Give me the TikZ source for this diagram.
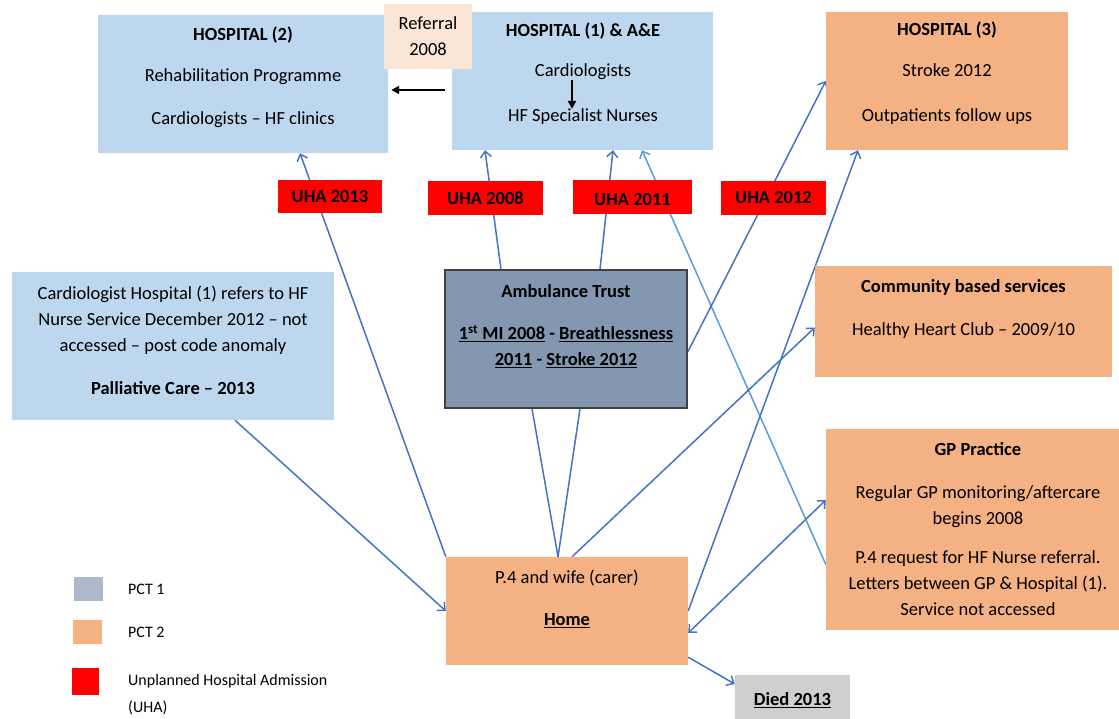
\documentclass[tikz,border=0pt]{standalone}
\usepackage{fontspec}
\setmainfont{Carlito}
\usetikzlibrary{arrows.meta,backgrounds}
\definecolor{nhsblue}{RGB}{189,215,238}
\definecolor{nhspeach}{RGB}{251,229,214}
\definecolor{nhsorange}{RGB}{244,177,131}
\definecolor{nhsslate}{RGB}{132,151,176}
\definecolor{nhsgrey}{RGB}{208,206,206}
\definecolor{nhskey}{RGB}{173,185,202}
\definecolor{nhsline}{RGB}{68,114,196}
\definecolor{nhsfaint}{RGB}{91,155,213}
% invisible strut below the last line, lifts the text in its box
\newcommand{\padbelow}[1]{\rule[-#1]{0pt}{#1}}

\begin{document}
\begin{tikzpicture}[x=1pt, y=-1pt,
  >={Straight Barb[length=6pt,width=11pt]},
  box/.style={align=center, inner sep=0pt, font=\fontsize{18.5}{26}\selectfont},
  title/.style={box, font=\fontsize{18.5}{26}\selectfont\bfseries},
  bluebox/.style={box, fill=nhsblue},
  orangebox/.style={box, fill=nhsorange},
  uha/.style={title, fill=red},
  link/.style={nhsline, line width=1.5pt, ->},
  plain/.style={nhsline, line width=1.5pt},
  blackarrow/.style={black, line width=2pt, -{Triangle[length=8pt,width=8pt]}}]
\useasboundingbox (0,0) rectangle (1119,719);

% Top row: hospitals
\node[bluebox, minimum width=290pt, minimum height=138pt] (hosp2) at (243,84)
  {\textbf{HOSPITAL (2)}\\[15pt] Rehabilitation Programme\\[17pt] Cardiologists -- HF clinics\padbelow{16pt}};
\node[bluebox, minimum width=261pt, minimum height=138pt] (hosp1) at (582.5,81) {};
\node[title] (hosp1title) at (583,31) {HOSPITAL (1) \& A\&E};
\node[box] (cardio) at (583,72) {Cardiologists};
\node[box] (hfnurse) at (583,117) {HF Specialist Nurses};
\node[box, fill=nhspeach, minimum width=88pt, minimum height=65pt] (referral) at (428,36.5) {Referral\\2008};
\node[orangebox, minimum width=242pt, minimum height=138pt] (hosp3) at (947,81)
  {\textbf{HOSPITAL (3)}\\[15pt] Stroke 2012\\[19pt] Outpatients follow ups\padbelow{18pt}};

% Unplanned admissions
\node[uha, minimum width=104pt, minimum height=33pt] (uha13) at (330,197) {UHA 2013};
\node[uha, minimum width=115pt, minimum height=34pt] (uha08) at (485.5,198) {UHA 2008};
\node[uha, minimum width=119pt, minimum height=34pt] (uha11) at (632.5,197) {\rule{0pt}{18pt}UHA 2011};
\node[uha, minimum width=105pt, minimum height=34pt] (uha12) at (773.5,198) {UHA 2012};

% Middle row
\node[bluebox, minimum width=322pt, minimum height=148pt] (refbox) at (173,346)
  {Cardiologist Hospital (1) refers to HF\\ Nurse Service December 2012 -- not\\ accessed -- post code anomaly\\[17pt] \textbf{Palliative Care -- 2013}\padbelow{12pt}};
\node[box, fill=nhsslate, draw=black!75, line width=1.5pt, minimum width=242pt, minimum height=138pt] (amb) at (566,339)
  {\textbf{Ambulance Trust}\\[16pt] \textbf{\underline{1\textsuperscript{st} MI 2008} - \underline{Breathlessness}}\\ \textbf{\underline{2011} - \underline{Stroke 2012}}\padbelow{27pt}};
\node[orangebox, minimum width=297pt, minimum height=111pt] (comm) at (963.5,321.5)
  {\textbf{Community based services}\\[17pt] Healthy Heart Club -- 2009/10\padbelow{28pt}};

% Bottom row
\node[orangebox, minimum width=242pt, minimum height=108pt] (home) at (567,611)
  {P.4 and wife (carer)\\[16pt] \textbf{\underline{Home}}\padbelow{27pt}};
\node[box, fill=nhsgrey, minimum width=115pt, minimum height=50pt] (died) at (792.5,700)
  {\textbf{\underline{Died 2013}}};
\node[orangebox, minimum width=304pt, minimum height=201pt] (gp) at (978,529.5)
  {\textbf{GP Practice}\\[17pt] Regular GP monitoring/aftercare\\ begins 2008\\[13pt] P.4 request for HF Nurse referral.\\ Letters between GP \& Hospital (1).\\ Service not accessed};

% Key
\foreach \name/\col/\w/\h/\x/\y/\txt in {keyone/nhskey/29/24/88.5/589/PCT 1,
    keytwo/nhsorange/29/24/87.5/632/PCT 2,
    keyuha/red/27/27/85.5/681.5/Unplanned Hospital Admission} {
  \node[fill=\col, minimum width=\w pt, minimum height=\h pt, inner sep=0pt] (\name) at (\x,\y) {};
  \node[anchor=west, inner sep=0pt, font=\fontsize{16}{20}\selectfont] (\name label) at (128,\y) {\txt};
}
\node[anchor=west, inner sep=0pt, font=\fontsize{16}{20}\selectfont] (keyuhamore) at (128,708) {(UHA)};

% Connectors
\begin{pgfonlayer}{background}
\draw[link] (home.north west) -- ([xshift=57pt]hosp2.south);
\draw[link] ([xshift=-65pt]amb.north) -- ([xshift=-97.5pt]hosp1.south);
\draw[link] ([xshift=34pt]amb.north) -- ([xshift=30.5pt]hosp1.south);
\draw[link, nhsfaint] ([yshift=-35pt]gp.west) -- ([xshift=59.5pt]hosp1.south);
\draw[link] ([yshift=-13pt]amb.east) -- (hosp3.west);
\draw[link] (home.east) -- ([xshift=-89pt]hosp3.south);
\draw[link] ([xshift=5pt]home.north) -- ([yshift=-6pt]comm.west);
\draw[link, <->] ([yshift=-22pt]home.east) -- ([yshift=29.5pt]gp.west);
\draw[link] ([xshift=62pt]refbox.south) -- (home.west);
\draw[link] ([yshift=8pt]home.south east) -- ([yshift=16pt]died.west);
\draw[plain] ([xshift=-34pt]amb.south) -- ([xshift=-9pt]home.north);
\draw[plain] ([xshift=14pt]amb.south) -- ([xshift=-9pt]home.north);
\end{pgfonlayer}
\draw[blackarrow] ([xshift=-7pt,yshift=-9pt]hosp1.west) -- ([xshift=3pt,yshift=-6pt]hosp2.east);
\draw[blackarrow] ([xshift=-11pt]cardio.south) -- ([xshift=-11pt]hfnurse.north);
\end{tikzpicture}
\end{document}
